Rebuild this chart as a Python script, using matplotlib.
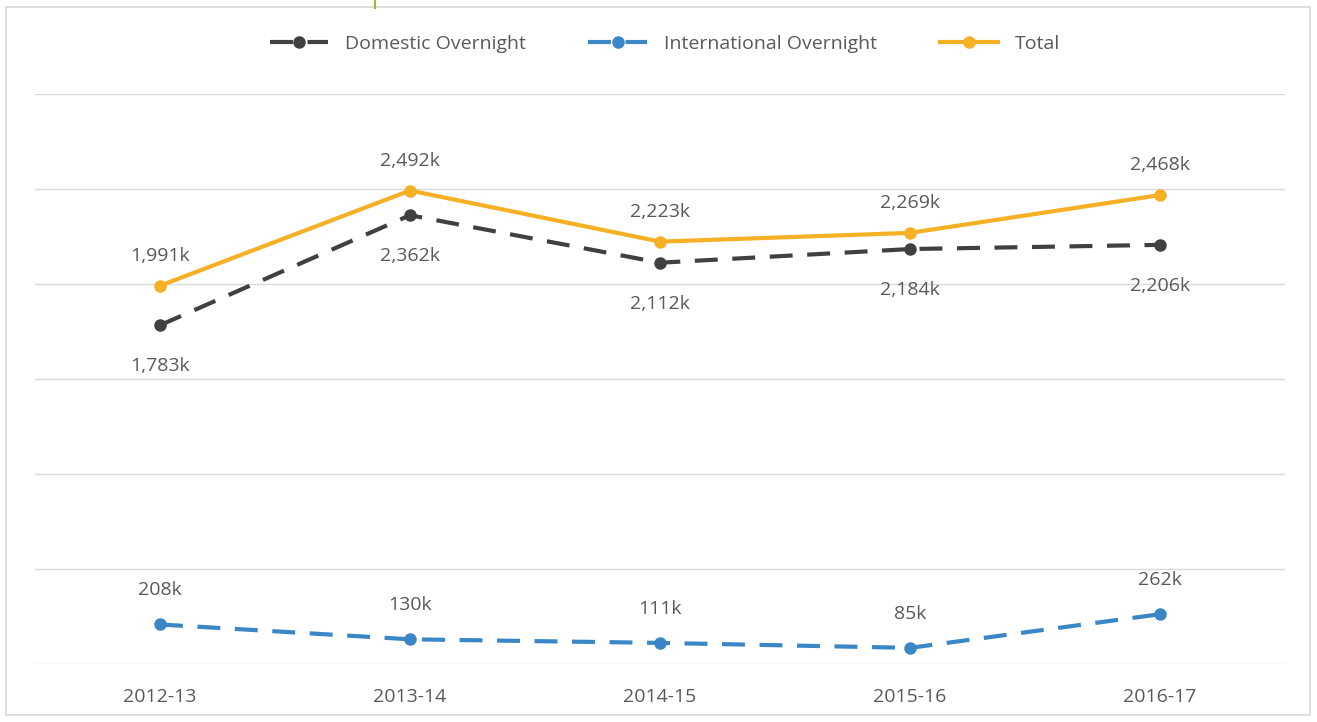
import matplotlib as mpl
import matplotlib.pyplot as plt
import numpy as np
from matplotlib.patches import Rectangle
from matplotlib.lines import Line2D

years = ['2012-13', '2013-14', '2014-15', '2015-16', '2016-17']
domestic = [1783, 2362, 2112, 2184, 2206]
international = [208, 130, 111, 85, 262]
total = [1991, 2492, 2223, 2269, 2468]

c_dom = '#404040'
c_int = '#3b86c6'
c_tot = '#f5b025'
c_text = '#595959'


def label(ax, x, y, dy):
    ax.annotate('{:,}k'.format(y), (x, y), xytext=(0, dy),
                textcoords='offset pixels', ha='center', va='center',
                fontsize=14, color=c_text)


def main():
    mpl.rcParams['font.family'] = ['Open Sans', 'DejaVu Sans']
    fig = plt.figure(figsize=(13.17, 7.22), dpi=100)
    fig.patch.set_facecolor('white')
    fig.patches.append(Rectangle((6 / 1317, 7 / 722), 1304 / 1317, 708 / 722,
                                 transform=fig.transFigure, fill=False,
                                 edgecolor='#d9d9d9', linewidth=1.2))
    fig.add_artist(Line2D([375 / 1317, 375 / 1317], [1.0, 714 / 722],
                          transform=fig.transFigure, color='#a7b530',
                          linewidth=1.5))

    ax = fig.add_axes([35 / 1317, 58 / 722, 1250 / 1317, 570 / 722])
    x = np.arange(len(years))

    ax.plot(x, domestic, color=c_dom, linewidth=3, dashes=(5.5, 3.5),
            marker='o', markersize=8, label='Domestic Overnight')
    ax.plot(x, international, color=c_int, linewidth=3, dashes=(5.5, 3.5),
            marker='o', markersize=8, label='International Overnight')
    ax.plot(x, total, color=c_tot, linewidth=3,
            marker='o', markersize=8, label='Total')

    for i in x:
        label(ax, i, domestic[i], -41)
        label(ax, i, total[i], 30)
        label(ax, i, international[i], 34)

    ax.set_xlim(-0.5, 4.5)
    ax.set_ylim(0, 3000)
    ax.set_yticks(np.arange(0, 3001, 500))
    ax.set_yticklabels([])
    ax.grid(axis='y', color='#d9d9d9', linewidth=1)
    ax.set_axisbelow(True)
    ax.tick_params(length=0)
    ax.set_xticks(x)
    ax.set_xticklabels(years, fontsize=14, color=c_text)
    ax.tick_params(axis='x', pad=17)
    for s in ax.spines.values():
        s.set_visible(False)

    fig.legend(loc='center', bbox_to_anchor=(0.505, 1 - 44 / 722), ncol=3,
               frameon=False, fontsize=14, labelcolor=c_text,
               handlelength=3.0, columnspacing=3.2, handletextpad=0.9)

    fig.savefig('out.png', dpi=100)


if __name__ == '__main__':
    main()
